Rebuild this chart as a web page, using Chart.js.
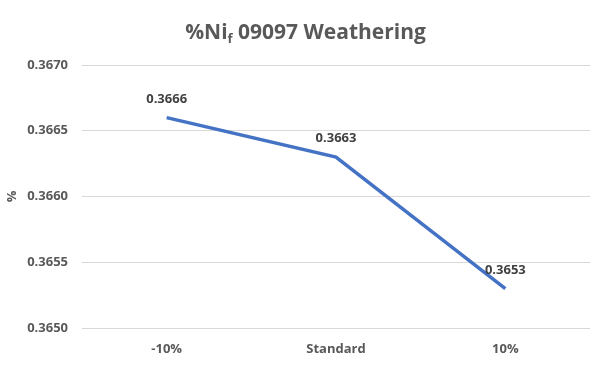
<!DOCTYPE html>
<html>
<head>
<meta charset="utf-8">
<script src="https://cdn.jsdelivr.net/npm/chart.js@4"></script>
<style>
  html, body { margin: 0; padding: 0; background: #fff; }
  #wrap { width: 615px; height: 369px; }
</style>
</head>
<body>
<div id="wrap"><canvas id="c" width="615" height="369"></canvas></div>
<script>
const categories = ['-10%', 'Standard', '10%'];
const niValues = [0.3666, 0.3663, 0.3653];
const yMin = 0.3650, yMax = 0.3670, yStep = 0.0005;

const FONT = '"Open Sans", "Liberation Sans", sans-serif';
const GREY = '#595959';

// 标题（带下标 f）
const titlePlugin = {
    id: 'subTitle',
    afterDraw(chart) {
        const ctx = chart.ctx;
        ctx.save();
        ctx.fillStyle = GREY;
        ctx.textBaseline = 'alphabetic';
        const big = 'bold 21px ' + FONT, small = 'bold 13px ' + FONT;
        const parts = [['%Ni', big, 0], ['f', small, 4], [' 09097 Weathering', big, 0]];
        let w = 0;
        parts.forEach(p => { ctx.font = p[1]; w += ctx.measureText(p[0]).width; });
        let x = (chart.width - w) / 2 - 2;
        parts.forEach(p => {
            ctx.font = p[1];
            ctx.fillText(p[0], x, 39 + p[2]);
            x += ctx.measureText(p[0]).width;
        });
        ctx.restore();
    }
};

// 数据标签
const labelPlugin = {
    id: 'pointLabels',
    afterDatasetsDraw(chart) {
        const ctx = chart.ctx;
        const meta = chart.getDatasetMeta(0);
        ctx.save();
        ctx.font = 'bold 13px ' + FONT;
        ctx.fillStyle = '#404040';
        ctx.textAlign = 'center';
        ctx.textBaseline = 'bottom';
        meta.data.forEach((pt, i) => {
            ctx.fillText(niValues[i].toFixed(4), pt.x, pt.y - 12);
        });
        ctx.restore();
    }
};

new Chart(document.getElementById('c'), {
    type: 'line',
    data: {
        labels: categories,
        datasets: [{
            data: niValues,
            borderColor: '#4472C4',
            borderWidth: 3.5,
            pointRadius: 0,
            tension: 0,
            fill: false,
        }],
    },
    options: {
        responsive: false,
        animation: false,
        layout: { padding: { top: 65, right: 25, left: 4, bottom: 0 } },
        plugins: {
            legend: { display: false },
            tooltip: { enabled: false },
            title: { display: false },
        },
        scales: {
            x: {
                offset: true,
                grid: { display: false, drawTicks: false },
                border: { display: false },
                ticks: { color: GREY, font: { family: FONT, size: 13, weight: 'bold' }, padding: 13 },
                afterFit: s => { s.height = 41; },
            },
            y: {
                min: yMin,
                max: yMax,
                grid: { color: '#d9d9d9', lineWidth: 1, drawTicks: false },
                border: { display: false },
                ticks: {
                    stepSize: yStep,
                    color: GREY,
                    padding: 14,
                    font: { family: FONT, size: 13, weight: 'bold' },
                    callback: v => v.toFixed(4),
                },
                title: { display: true, text: '%', color: GREY, font: { family: FONT, size: 13, weight: 'bold' }, padding: 0 },
                afterFit: s => { s.width = 78; },
            },
        },
    },
    plugins: [titlePlugin, labelPlugin],
});
</script>
</body>
</html>
